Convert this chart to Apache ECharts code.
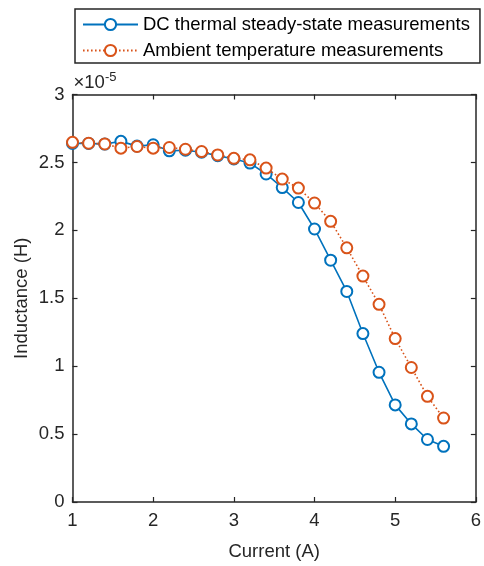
<!DOCTYPE html>
<html>
<head>
<meta charset="utf-8">
<script src="https://cdn.jsdelivr.net/npm/echarts@6/dist/echarts.min.js"></script>
<style>
  html, body { margin: 0; padding: 0; background: #fff; }
  #chart { width: 484px; height: 566px; }
</style>
</head>
<body>
<div id="chart"></div>
<script>
// Current sweep (A)
const current = [1.0, 1.2, 1.4, 1.6, 1.8, 2.0, 2.2, 2.4, 2.6, 2.8, 3.0, 3.2,
                 3.4, 3.6, 3.8, 4.0, 4.2, 4.4, 4.6, 4.8, 5.0, 5.2, 5.4, 5.6];

// Inductance in units of 1e-5 H
const dcThermal = [2.640, 2.640, 2.635, 2.655, 2.620, 2.630, 2.585, 2.590, 2.575, 2.550, 2.525, 2.495,
                   2.415, 2.315, 2.205, 2.010, 1.780, 1.550, 1.240, 0.955, 0.715, 0.575, 0.460, 0.410];
const ambient   = [2.648, 2.641, 2.636, 2.605, 2.617, 2.605, 2.610, 2.597, 2.580, 2.555, 2.530, 2.519,
                   2.458, 2.377, 2.311, 2.201, 2.066, 1.871, 1.663, 1.455, 1.203, 0.990, 0.778, 0.618];

const xTicks = [1, 2, 3, 4, 5, 6];
const yTicks = [0, 0.5, 1, 1.5, 2, 2.5, 3];

const seriesNames = ['DC thermal steady-state measurements', 'Ambient temperature measurements'];

const FONT = 'Liberation Sans, Arial, Helvetica, sans-serif';
const AX = '#262626';
const BLUE = '#0072BD';
const ORANGE = '#D95319';

const pairs = (ys) => current.map((x, i) => [x, ys[i]]);

const axisCommon = {
  axisLine: { show: true, onZero: false, lineStyle: { color: AX, width: 1.5 } },
  axisTick: { show: true, inside: true, length: 5, lineStyle: { color: AX, width: 1.2 } },
  splitLine: { show: false }
};

const chart = echarts.init(document.getElementById('chart'), null, { renderer: 'canvas' });
chart.setOption({
  animation: false,
  backgroundColor: '#ffffff',
  textStyle: { fontFamily: FONT },
  grid: { left: 72.5, right: 2.5, top: 94.5, bottom: 63, containLabel: false },
  legend: {
    orient: 'vertical',
    left: 75,
    top: 9,
    padding: [6, 10, 3, 7],
    itemGap: 7,
    itemWidth: 55,
    itemHeight: 14,
    backgroundColor: '#ffffff',
    borderColor: AX,
    borderWidth: 1.5,
    borderRadius: 0,
    textStyle: { fontFamily: FONT, fontSize: 18.5, color: '#000', lineHeight: 18 },
    data: seriesNames
  },
  xAxis: [
    Object.assign({
      type: 'value', position: 'bottom', min: 1, max: 6, interval: 1,
      name: 'Current (A)', nameLocation: 'middle', nameGap: 40,
      nameTextStyle: { fontFamily: FONT, fontSize: 18.5, color: AX },
      axisLabel: {
        margin: 9, fontFamily: FONT, fontSize: 18.5, color: AX,
        formatter: (v) => xTicks.includes(v) ? String(v) : ''
      }
    }, axisCommon),
    Object.assign({
      type: 'value', position: 'top', min: 1, max: 6, interval: 1,
      axisLabel: { show: false }
    }, axisCommon)
  ],
  yAxis: [
    Object.assign({
      type: 'value', position: 'left', min: 0, max: 3, interval: 0.5,
      name: '{base|×10}{sup|-5}', nameLocation: 'end', nameGap: 2,
      nameTextStyle: {
        align: 'left', verticalAlign: 'bottom', padding: [0, 0, 0, 1],
        rich: {
          base: { fontFamily: FONT, fontSize: 18.5, color: AX, lineHeight: 22, verticalAlign: 'bottom' },
          sup: { fontFamily: FONT, fontSize: 13, color: AX, lineHeight: 22, verticalAlign: 'top' }
        }
      },
      axisLabel: {
        margin: 8, fontFamily: FONT, fontSize: 18.5, color: AX,
        formatter: (v) => yTicks.includes(v) ? String(v) : ''
      }
    }, axisCommon),
    Object.assign({
      type: 'value', position: 'right', min: 0, max: 3, interval: 0.5,
      axisLabel: { show: false }
    }, axisCommon),
    {
      type: 'value', position: 'left', min: 0, max: 3, show: true,
      name: 'Inductance (H)', nameLocation: 'middle', nameGap: 41,
      nameTextStyle: { fontFamily: FONT, fontSize: 18.5, color: AX },
      axisLine: { show: false }, axisTick: { show: false },
      axisLabel: { show: false }, splitLine: { show: false }
    }
  ],
  series: [
    {
      name: seriesNames[0],
      type: 'line',
      xAxisIndex: 0, yAxisIndex: 0,
      data: pairs(dcThermal),
      symbol: 'emptyCircle',
      symbolSize: 11,
      showAllSymbol: true,
      color: BLUE,
      lineStyle: { color: BLUE, width: 1.6 },
      itemStyle: { color: BLUE, borderColor: BLUE, borderWidth: 1.6 },
      z: 2
    },
    {
      name: seriesNames[1],
      type: 'line',
      xAxisIndex: 0, yAxisIndex: 0,
      data: pairs(ambient),
      symbol: 'emptyCircle',
      symbolSize: 11,
      showAllSymbol: true,
      color: ORANGE,
      lineStyle: { color: ORANGE, width: 1.6, type: [1.6, 2.4] },
      itemStyle: { color: ORANGE, borderColor: ORANGE, borderWidth: 1.6 },
      z: 3
    }
  ]
});
</script>
</body>
</html>
